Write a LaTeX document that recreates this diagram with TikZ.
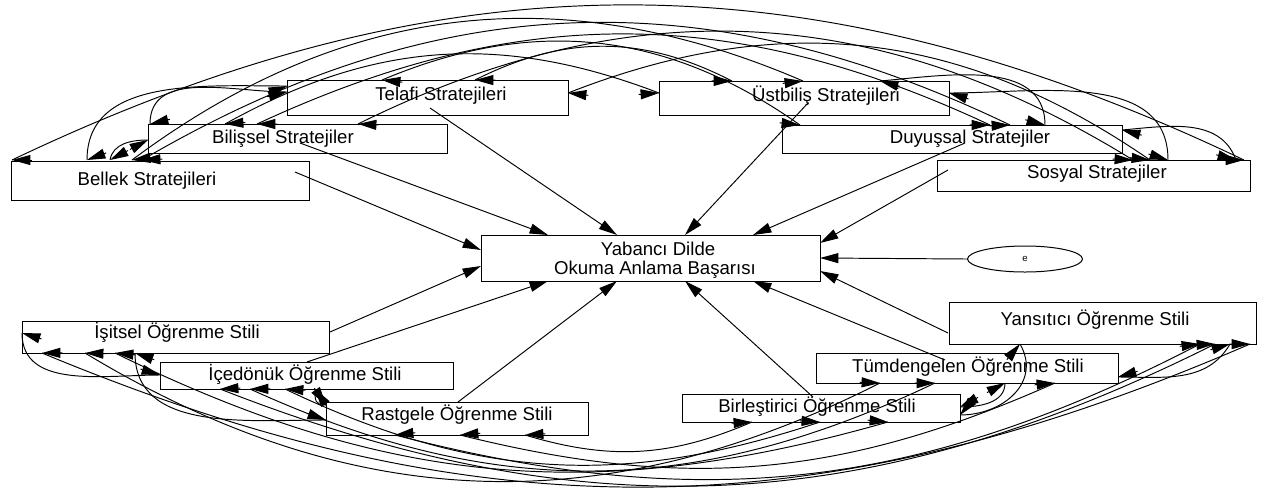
\documentclass[tikz,border=0pt]{standalone}
\usepackage{fontspec}
\setmainfont{Liberation Sans}
\usetikzlibrary{arrows.meta,calc,shapes.geometric}
\tikzset{
  box/.style={draw, line width=0.25pt, inner sep=0pt, rectangle},
  lbl/.style={inner sep=0pt, anchor=base, font=\fontsize{4.65}{5}\selectfont},
  regr/.style={line width=0.24pt, -{Triangle[length=4.6pt,width=2.5pt]}},
  covline/.style={line width=0.24pt},
  covtip/.style={line width=0.24pt, -{Triangle[length=4.6pt,width=2.5pt]}},
}
\newcommand\covar[3]{%
  \draw[covline] (#1) to[#3] (#2);
  \draw[covtip] let \p1=($(#1)-(#2)$), \n1={atan2(\y1,\x1)} in (#2) ++(\n1:5.1pt) -- (#2);
  \draw[covtip] let \p1=($(#2)-(#1)$), \n1={atan2(\y1,\x1)} in (#1) ++(\n1:5.1pt) -- (#1);}
\begin{document}
\begin{tikzpicture}[x=0.25pt,y=0.25pt]
\useasboundingbox (0,0) rectangle (1264,495);
% ---------- boxes ----------
\node[box, minimum width=70.25pt, minimum height=8.75pt] (T)  at (427.5,397.5) {};
\node[box, minimum width=72.5pt,  minimum height=8.5pt]  (U)  at (804,397) {};
\node[box, minimum width=74.75pt, minimum height=7.25pt] (Bi) at (297.5,356.5) {};
\node[box, minimum width=85pt,    minimum height=7pt]    (D)  at (952,356) {};
\node[box, minimum width=74.5pt,  minimum height=9.75pt] (Be) at (160,314.5) {};
\node[box, minimum width=78.25pt, minimum height=7.75pt] (S)  at (1093.5,319.5) {};
\node[box, minimum width=84.75pt, minimum height=11.5pt] (C)  at (650.5,237) {};
\node[box, minimum width=76.75pt, minimum height=8pt]    (I)  at (175.5,158) {};
\node[box, minimum width=73.25pt, minimum height=6.75pt] (Ic) at (306.5,119.5) {};
\node[box, minimum width=65.5pt,  minimum height=8.25pt] (R)  at (457,76.5) {};
\node[box, minimum width=69.5pt,  minimum height=7pt]    (B)  at (821,87) {};
\node[box, minimum width=75.5pt,  minimum height=7.5pt]  (Tu) at (967,127) {};
\node[box, minimum width=76.75pt, minimum height=10.5pt] (Y)  at (1102.5,172) {};
\node[draw, ellipse, line width=0.25pt, minimum width=28.75pt, minimum height=6.5pt, inner sep=0pt,
      font=\fontsize{2.4}{2.6}\selectfont] (e) at (1025,236) {e};
% ---------- texts ----------
\node[lbl] (Tt)  at (441,395) {Telafi Stratejileri};
\node[lbl] (Ut)  at (826,394) {Üstbiliş Stratejileri};
\node[lbl] (Bit) at (283,352) {Bilişsel Stratejiler};
\node[lbl] (Dt)  at (970,352) {Duyuşsal Stratejiler};
\node[lbl] (Bet) at (147,310) {Bellek Stratejileri};
\node[lbl] (St)  at (1097,317) {Sosyal Stratejiler};
\node[lbl] (C1)  at (658,240) {Yabancı Dilde};
\node[lbl] (C2)  at (655,221) {Okuma Anlama Başarısı};
\node[lbl] (It)  at (177,157) {İşitsel Öğrenme Stili};
\node[lbl] (Ict) at (305,115) {İçedönük Öğrenme Stili};
\node[lbl] (Rt)  at (457,75) {Rastgele Öğrenme Stili};
\node[lbl] (Bt)  at (817,83) {Birleştirici Öğrenme Stili};
\node[lbl] (Tut) at (968,123) {Tümdengelen Öğrenme Stili};
\node[lbl] (Yt)  at (1095,170) {Yansıtıcı Öğrenme Stili};
% ---------- regression paths ----------
\coordinate (be-s) at (295,323);  \coordinate (c1) at (481,245);
\coordinate (bi-s) at (300,352);  \coordinate (c2) at (548,260);
\coordinate (t-s)  at (430,387);  \coordinate (c3) at (617,260);
\coordinate (u-s)  at (808,392);  \coordinate (c4) at (685,260);
\coordinate (d-s)  at (965,352);  \coordinate (c5) at (753,260);
\coordinate (s-s)  at (948,325);  \coordinate (c6) at (820,252);
                                  \coordinate (c7) at (820,237);
\coordinate (y-s)  at (948,162);  \coordinate (c8) at (820,224);
\coordinate (tu-s) at (945,135);  \coordinate (c9) at (753,214);
\coordinate (b-s)  at (813,98);   \coordinate (c10) at (685,214);
\coordinate (r-s)  at (458,93);   \coordinate (c11) at (617,214);
\coordinate (ic-s) at (307,133);  \coordinate (c12) at (548,214);
\coordinate (i-s)  at (330,163);  \coordinate (c13) at (481,229);
\draw[regr] (be-s) -- (c1);
\draw[regr] (bi-s) -- (c2);
\draw[regr] (t-s) -- (c3);
\draw[regr] (u-s) -- (c4);
\draw[regr] (d-s) -- (c5);
\draw[regr] (s-s) -- (c6);
\draw[regr] (e.west) -- (c7);
\draw[regr] (y-s) -- (c8);
\draw[regr] (tu-s) -- (c9);
\draw[regr] (b-s) -- (c10);
\draw[regr] (r-s) -- (c11);
\draw[regr] (ic-s) -- (c12);
\draw[regr] (i-s) -- (c13);
% ---------- covariance anchors (top) ----------
\coordinate (be1) at (12,335);  \coordinate (be2) at (87,335);  \coordinate (be3) at (110,335);
\coordinate (be4) at (132,335); \coordinate (be5) at (142,335);
\coordinate (bi1) at (150,371); \coordinate (bi2) at (148,355); \coordinate (bi3) at (225,371);
\coordinate (bi4) at (257,371); \coordinate (bi5) at (358,371);
\coordinate (t1) at (287,409);  \coordinate (t2) at (287,403);  \coordinate (t3) at (382,415);
\coordinate (t4) at (475,415);  \coordinate (t5) at (568,402);
\coordinate (u1) at (659,402);  \coordinate (u2) at (732,414);  \coordinate (u3) at (803,414);
\coordinate (u4) at (880,414);  \coordinate (u5) at (949,402);
\coordinate (d1) at (800,370);  \coordinate (d2) at (990,370);  \coordinate (d3) at (1010,370);
\coordinate (d4) at (1045,370); \coordinate (d5) at (1122,365);
\coordinate (s1) at (1133,335); \coordinate (s2) at (1150,335); \coordinate (s3) at (1168,335);
\coordinate (s4) at (1236,335); \coordinate (s5) at (1244,335);
\covar{be1}{s5}{bend left=25.5}
\covar{be2}{t1}{out=90,in=180}
\covar{bi1}{t2}{out=90,in=180}
\covar{be3}{bi2}{out=80,in=180}
\covar{be4}{u3}{bend left=30}
\covar{be5}{d3}{bend left=28}
\covar{bi3}{u1}{bend left=25}
\covar{bi4}{d2}{bend left=25}
\covar{bi5}{s1}{bend left=29}
\covar{t4}{u2}{bend left=27}
\covar{t3}{d1}{bend left=29}
\covar{t5}{s2}{bend left=28}
\covar{u4}{d4}{out=5,in=90}
\covar{u5}{s3}{out=0,in=90}
\covar{d5}{s4}{out=5,in=110}
% ---------- covariance anchors (bottom) ----------
\coordinate (i1) at (22,162);   \coordinate (i2) at (42,142);   \coordinate (i3) at (85,142);
\coordinate (i4) at (115,142);  \coordinate (i5) at (135,142);
\coordinate (ic1) at (160,120); \coordinate (ic2) at (220,106); \coordinate (ic3) at (250,106);
\coordinate (ic4) at (285,106); \coordinate (ic5) at (315,106);
\coordinate (r1) at (326,90);   \coordinate (r2) at (326,75);   \coordinate (r3) at (395,60);
\coordinate (r4) at (460,60);   \coordinate (r5) at (525,60);
\coordinate (b1) at (752,73);   \coordinate (b2) at (820,73);   \coordinate (b3) at (888,73);
\coordinate (b4) at (960,88);   \coordinate (b5) at (960,80);
\coordinate (tu1) at (880,112); \coordinate (tu2) at (935,112); \coordinate (tu3) at (1005,112);
\coordinate (tu4) at (1055,112);\coordinate (tu5) at (1118,118);
\coordinate (y1) at (1020,151); \coordinate (y2) at (1200,151); \coordinate (y3) at (1215,151);
\coordinate (y4) at (1230,151); \coordinate (y5) at (1250,151);
\covar{i1}{ic1}{out=-90,in=180}
\covar{i5}{r2}{out=-90,in=180}
\covar{ic5}{r1}{out=-90,in=180,looseness=1.5}
\covar{i4}{b3}{bend right=21}
\covar{i3}{tu1}{bend right=29}
\covar{i2}{y5}{bend right=23}
\covar{ic4}{b2}{bend right=22}
\covar{ic3}{tu2}{bend right=25}
\covar{ic2}{y3}{bend right=24}
\covar{r5}{b1}{bend right=20}
\covar{r4}{tu4}{bend right=19}
\covar{r3}{y2}{bend right=21}
\covar{b4}{tu3}{out=0,in=-90}
\covar{b5}{y1}{out=0,in=-60,looseness=1.2}
\covar{tu5}{y4}{out=0,in=-120}
\end{tikzpicture}
\end{document}
